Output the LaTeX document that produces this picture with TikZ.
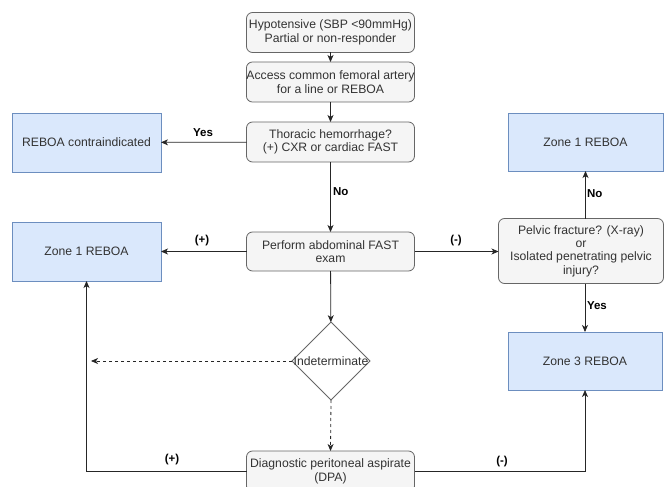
\documentclass[tikz,border=0pt]{standalone}
\usepackage{fontspec}
\setmainfont{Liberation Sans}
\usetikzlibrary{arrows.meta,shapes.geometric}
\definecolor{bluefill}{HTML}{DAE8FC}
\definecolor{bluedraw}{HTML}{6C8EBF}
\definecolor{greyfill}{HTML}{F5F5F5}
\definecolor{greydraw}{HTML}{666666}
\definecolor{greytext}{HTML}{333333}
\tikzset{
  every node/.style={font=\fontsize{12.2}{13.4}\selectfont, inner sep=0pt, outer sep=0pt},
  greybox/.style={draw=greydraw, fill=greyfill, text=greytext, rounded corners=6pt, line width=0.8pt, align=center, minimum width=168pt, minimum height=40pt},
  bluebox/.style={draw=bluedraw, fill=bluefill, text=greytext, line width=0.8pt, align=center, minimum width=149pt, minimum height=59pt},
  decision/.style={draw=greydraw, fill=white, text=greytext, diamond, line width=0.8pt, minimum width=78pt, minimum height=78pt, inner sep=0pt},
  conn/.style={draw=black!85, line width=0.8pt, -{Stealth[length=7pt,width=6pt,inset=2pt]}},
  dconn/.style={conn, dashed, dash pattern=on 3pt off 3pt},
  lbl/.style={font=\fontsize{11.5}{13.5}\selectfont\bfseries, text=black},
}
\begin{document}
\begin{tikzpicture}[x=1pt,y=-1pt]
\useasboundingbox (0,0) rectangle (665,487);
\node[greybox] (b1) at (330.5,32.5) {Hypotensive (SBP <90mmHg)\\Partial or non-responder};
\node[greybox] (b2) at (330.5,82) {Access common femoral artery\\for a line or REBOA};
\node[greybox] (b3) at (330.5,142) {Thoracic hemorrhage?\\(+) CXR or cardiac FAST};
\node[bluebox] (contra) at (86.5,142.5) {REBOA contraindicated};
\node[bluebox, minimum width=155pt, minimum height=58pt] (z1r) at (585.5,142) {Zone 1 REBOA};
\node[greybox, minimum height=39pt] (fast) at (330.5,251.5) {Perform abdominal FAST\\exam};
\node[bluebox] (z1l) at (86.5,251.5) {Zone 1 REBOA};
\node[greybox, minimum width=165pt, minimum height=65pt] (pelvic) at (581,251) {Pelvic fracture? (X-ray)\\or\\Isolated penetrating pelvic\\injury?};
\node[bluebox, minimum width=154pt, minimum height=58pt] (z3) at (585,361) {Zone 3 REBOA};
\node[decision] (ind) at (331,361) {};
\node[text=greytext] at (ind.center) {Indeterminate};
\node[greybox, minimum height=41pt] (dpa) at (330.5,471.5) {Diagnostic peritoneal aspirate\\(DPA)};
\coordinate (dashend) at (91,361);

\draw[conn] (b1) -- (b2);
\draw[conn] (b2) -- (b3);
\draw[conn] (b3) -- (contra);
\draw[conn] (b3) -- (fast);
\draw[conn] (fast) -- (z1l);
\draw[conn] (fast.east) -- (fast.east -| pelvic.west);
\draw[conn] (pelvic.north -| z1r.south) -- (z1r.south);
\draw[conn] (pelvic.south -| z3.north) -- (z3.north);
\draw[conn] (fast) -- (ind);
\draw[dconn] (ind.west) -- (dashend);
\draw[dconn] (ind.south) -- (dpa.north);
\draw[conn] (dpa.west) -| (z1l.south);
\draw[conn] (dpa.east) -| (z3.south);

\node[lbl] at (203,133) {Yes};
\node[lbl, anchor=west] at (333,192) {No};
\node[lbl] at (202,241) {(+)};
\node[lbl] at (456,241) {(-)};
\node[lbl, anchor=west] at (587,194) {No};
\node[lbl, anchor=west] at (587,306) {Yes};
\node[lbl] at (172,460) {(+)};
\node[lbl] at (502,462) {(-)};
\end{tikzpicture}
\end{document}
